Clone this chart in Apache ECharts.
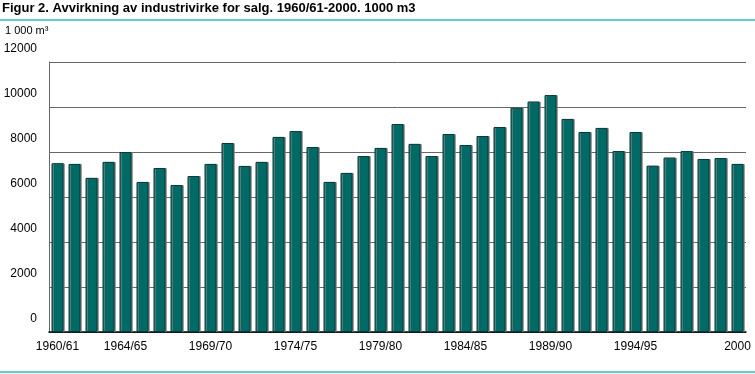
<!DOCTYPE html>
<html><head><meta charset="utf-8">
<script src="https://cdn.jsdelivr.net/npm/echarts@6/dist/echarts.min.js"></script>
<style>html,body{margin:0;padding:0;background:#fff}#c{width:755px;height:374px}</style>
</head><body><div id="c"></div>
<script>
const titleText = 'Figur 2. Avvirkning av industrivirke for salg. 1960/61-2000. 1000 m3';
const unitText = '1 000 m³';
const categories = [
  '1960/61','1961/62','1962/63','1963/64','1964/65','1965/66','1966/67','1967/68','1968/69','1969/70',
  '1970/71','1971/72','1972/73','1973/74','1974/75','1975/76','1976/77','1977/78','1978/79','1979/80',
  '1980/81','1981/82','1982/83','1983/84','1984/85','1985/86','1986/87','1987/88','1988/89','1989/90',
  '1990/91','1991/92','1992/93','1993/94','1994/95','1995/96','1996','1997','1998','1999','2000'
];
const values = [
  7500, 7470, 6850, 7560, 8000, 6670, 7290, 6530, 6930, 7470,
  8400, 7380, 7560, 8670, 8930, 8220, 6670, 7070, 7820, 8180,
  9240, 8360, 7820, 8800, 8310, 8710, 9110, 9970, 10240, 10530,
  9470, 8890, 9070, 8040, 8890, 7390, 7750, 8040, 7690, 7730, 7470
];
const labelledCategories = ['1960/61','1964/65','1969/70','1974/75','1979/80','1984/85','1989/90','1994/95','2000'];
const yMin = 0, yMax = 12000, yStep = 2000;

const chart = echarts.init(document.getElementById('c'), null, {renderer: 'canvas'});
chart.setOption({
  animation: false,
  textStyle: {fontFamily: 'Liberation Sans', color: '#000'},
  grid: {left: 49, right: 9, top: 62, bottom: 42, containLabel: false},
  graphic: [
    {type: 'text', x: 2, y: 2, style: {text: titleText, font: 'bold 13px "Liberation Sans"', fill: '#000'}},
    {type: 'line', shape: {x1: 0, y1: 20, x2: 755, y2: 20}, style: {stroke: '#66cccc', lineWidth: 2}},
    {type: 'text', x: 5, y: 25, style: {text: unitText, font: '11px "Liberation Sans"', fill: '#000'}},
    {type: 'line', shape: {x1: 0, y1: 372, x2: 755, y2: 372}, style: {stroke: '#66cccc', lineWidth: 2}}
  ],
  xAxis: {
    type: 'category',
    data: categories,
    axisLine: {show: true, lineStyle: {color: '#000', width: 1.5}},
    axisTick: {show: false},
    axisLabel: {
      interval: (i, v) => labelledCategories.includes(v),
      margin: 9, fontSize: 12, color: '#000', fontFamily: 'Liberation Sans'
    }
  },
  yAxis: {
    type: 'value', min: yMin, max: yMax, interval: yStep,
    axisLine: {show: true, lineStyle: {color: '#666', width: 1}},
    axisTick: {show: false},
    splitLine: {show: true, lineStyle: {color: '#666', width: 1}},
    axisLabel: {
      show: true, showMinLabel: true, showMaxLabel: true, hideOverlap: false,
      margin: 12, fontSize: 12, color: '#000', verticalAlign: 'bottom', lineHeight: 26,
      fontFamily: 'Liberation Sans',
      formatter: v => String(v)
    }
  },
  series: [{
    type: 'bar',
    data: values,
    barWidth: 12,
    itemStyle: {color: '#006a66', borderColor: '#003c3a', borderWidth: 1, shadowColor: '#808080', shadowOffsetX: 1.2, shadowOffsetY: 0, shadowBlur: 0}
  }]
});
</script></body></html>
